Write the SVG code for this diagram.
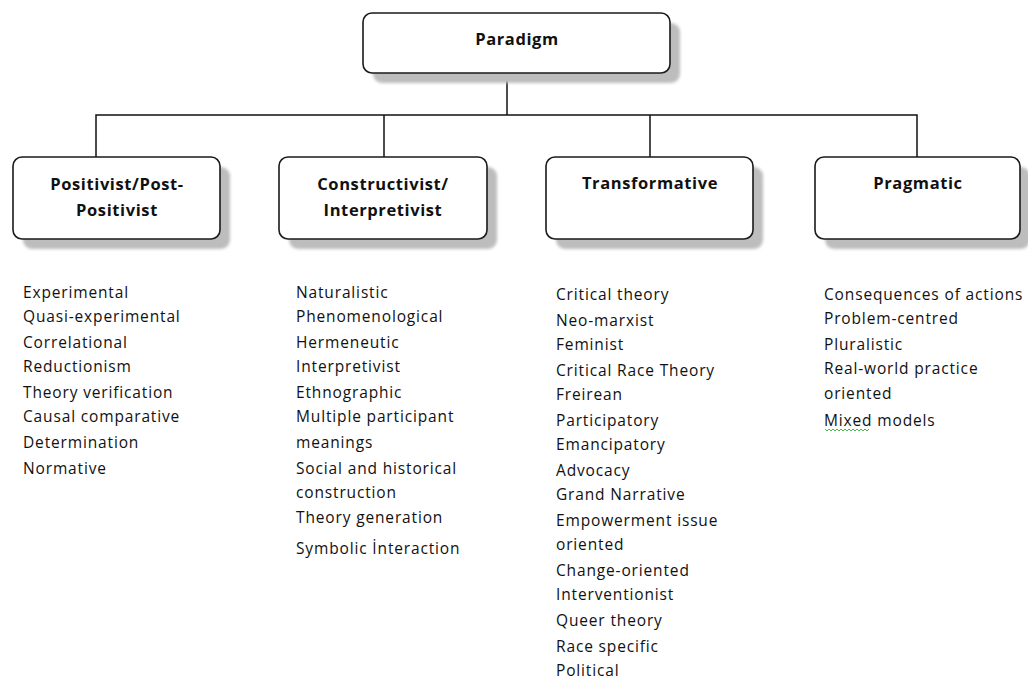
<svg xmlns="http://www.w3.org/2000/svg" width="1028" height="679" viewBox="0 0 1028 679">
<defs>
  <filter id="blur" x="-10%" y="-20%" width="120%" height="140%">
    <feGaussianBlur stdDeviation="1.8"/>
  </filter>
</defs>
<style>
  .box { fill: #ffffff; stroke: #1a1a1a; stroke-width: 1.6; }
  .shadow { fill: #bdbdbd; filter: url(#blur); }
  .hdr { font-family: "Open Sans", "Noto Sans", sans-serif; font-weight: bold; font-size: 16.5px; letter-spacing: 0.6px; fill: #111; text-anchor: middle; }
  .item { font-family: "Open Sans", "Noto Sans", sans-serif; font-size: 15.5px; letter-spacing: 0.85px; fill: #111; }
  .conn { stroke: #111; stroke-width: 1.5; fill: none; }
</style>
<rect width="1028" height="679" fill="#ffffff"/>

<g id="connectors">
  <path class="conn" d="M507 73 V115"/>
  <path class="conn" d="M96 157 V115 H917 V157"/>
  <path class="conn" d="M384 115 V157"/>
  <path class="conn" d="M650 115 V157"/>
</g>

<g id="node-paradigm">
  <rect class="shadow" x="373" y="23" width="307" height="60" rx="9"/>
  <rect class="box" x="363" y="13" width="307" height="60" rx="9"/>
  <text class="hdr" x="517" y="45">Paradigm</text>
</g>

<g id="node-positivist">
  <rect class="shadow" x="23" y="167" width="207" height="82" rx="9"/>
  <rect class="box" x="13" y="157" width="207" height="82" rx="9"/>
  <text class="hdr" x="117" y="190">Positivist/Post-</text>
  <text class="hdr" x="117" y="216">Positivist</text>
</g>

<g id="node-constructivist">
  <rect class="shadow" x="289" y="167" width="208" height="82" rx="9"/>
  <rect class="box" x="279" y="157" width="208" height="82" rx="9"/>
  <text class="hdr" x="383" y="190">Constructivist/</text>
  <text class="hdr" x="383" y="216">Interpretivist</text>
</g>

<g id="node-transformative">
  <rect class="shadow" x="556" y="167" width="207" height="82" rx="9"/>
  <rect class="box" x="546" y="157" width="207" height="82" rx="9"/>
  <text class="hdr" x="650" y="189">Transformative</text>
</g>

<g id="node-pragmatic">
  <rect class="shadow" x="825" y="167" width="205" height="82" rx="9"/>
  <rect class="box" x="815" y="157" width="205" height="82" rx="9"/>
  <text class="hdr" x="918" y="189">Pragmatic</text>
</g>

<g id="list-positivist">
  <text class="item" x="23" y="298">Experimental</text>
  <text class="item" x="23" y="322">Quasi-experimental</text>
  <text class="item" x="23" y="348">Correlational</text>
  <text class="item" x="23" y="372">Reductionism</text>
  <text class="item" x="23" y="398">Theory verification</text>
  <text class="item" x="23" y="422">Causal comparative</text>
  <text class="item" x="23" y="448">Determination</text>
  <text class="item" x="23" y="474">Normative</text>
</g>

<g id="list-constructivist">
  <text class="item" x="296" y="298">Naturalistic</text>
  <text class="item" x="296" y="322">Phenomenological</text>
  <text class="item" x="296" y="348">Hermeneutic</text>
  <text class="item" x="296" y="372">Interpretivist</text>
  <text class="item" x="296" y="398">Ethnographic</text>
  <text class="item" x="296" y="422">Multiple participant</text>
  <text class="item" x="296" y="448">meanings</text>
  <text class="item" x="296" y="474">Social and historical</text>
  <text class="item" x="296" y="498">construction</text>
  <text class="item" x="296" y="523">Theory generation</text>
  <text class="item" x="296" y="554">Symbolic İnteraction</text>
</g>

<g id="list-transformative">
  <text class="item" x="556" y="300">Critical theory</text>
  <text class="item" x="556" y="326">Neo-marxist</text>
  <text class="item" x="556" y="350">Feminist</text>
  <text class="item" x="556" y="376">Critical Race Theory</text>
  <text class="item" x="556" y="400">Freirean</text>
  <text class="item" x="556" y="426">Participatory</text>
  <text class="item" x="556" y="450">Emancipatory</text>
  <text class="item" x="556" y="476">Advocacy</text>
  <text class="item" x="556" y="500">Grand Narrative</text>
  <text class="item" x="556" y="526">Empowerment issue</text>
  <text class="item" x="556" y="550">oriented</text>
  <text class="item" x="556" y="576">Change-oriented</text>
  <text class="item" x="556" y="600">Interventionist</text>
  <text class="item" x="556" y="626">Queer theory</text>
  <text class="item" x="556" y="652">Race specific</text>
  <text class="item" x="556" y="676">Political</text>
</g>

<g id="list-pragmatic">
  <text class="item" x="824" y="300">Consequences of actions</text>
  <text class="item" x="824" y="324">Problem-centred</text>
  <text class="item" x="824" y="350">Pluralistic</text>
  <text class="item" x="824" y="374">Real-world practice</text>
  <text class="item" x="824" y="399">oriented</text>
  <text class="item" x="824" y="426">Mixed models</text>
  <path d="M825 429 l2 2 l2 -2 l2 2 l2 -2 l2 2 l2 -2 l2 2 l2 -2 l2 2 l2 -2 l2 2 l2 -2 l2 2 l2 -2 l2 2 l2 -2 l2 2 l2 -2 l2 2 l2 -2 l2 2 l2 -2" fill="none" stroke="#3fa83f" stroke-width="0.9"/>
</g>
</svg>
